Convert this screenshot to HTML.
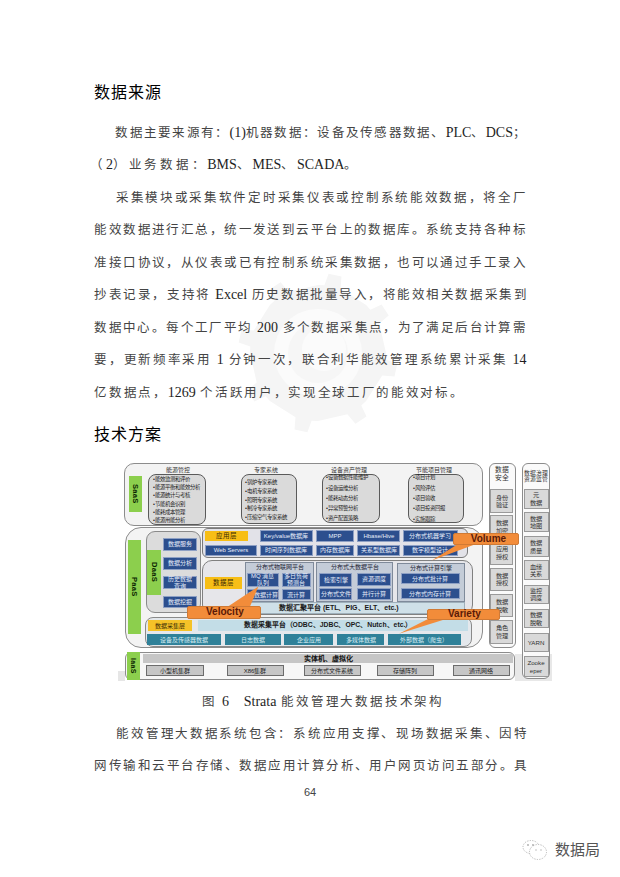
<!DOCTYPE html>
<html lang="zh-CN"><head><meta charset="utf-8"><style>
html,body{margin:0;padding:0;background:#fff;width:620px;height:877px;overflow:hidden;position:relative}
.t{position:absolute;white-space:nowrap;font-family:"Liberation Serif",serif;font-size:12.5px;line-height:16px;color:#444}
.t .e{letter-spacing:0;font-size:14px;color:#1e1e1e}
.h{position:absolute;white-space:nowrap;font-family:"Liberation Sans",sans-serif;font-size:16px;line-height:18px;color:#000;font-weight:400;letter-spacing:1.1px}
#dg{position:absolute;left:0;top:0;width:620px;height:877px}
#dg div{position:absolute;box-sizing:border-box}
</style></head><body>
<svg style="position:absolute;left:0;top:0" width="620" height="877">
<path d="M386.0,353.0 L385.7,359.4 L397.3,363.6 L394.5,376.5 L382.2,375.5 L366.1,401.1 L366.1,401.1 L361.3,405.4 L366.5,416.6 L355.4,423.7 L347.4,414.3 L318.0,421.0 L318.0,421.0 L311.6,420.7 L307.4,432.3 L294.5,429.5 L295.5,417.2 L269.9,401.1 L269.9,401.1 L265.6,396.3 L254.4,401.5 L247.3,390.4 L256.7,382.4 L250.0,353.0 L250.0,353.0 L250.3,346.6 L238.7,342.4 L241.5,329.5 L253.8,330.5 L269.9,304.9 L269.9,304.9 L274.7,300.6 L269.5,289.4 L280.6,282.3 L288.6,291.7 L318.0,285.0 L318.0,285.0 L324.4,285.3 L328.6,273.7 L341.5,276.5 L340.5,288.8 L366.1,304.9 L366.1,304.9 L370.4,309.7 L381.6,304.5 L388.7,315.6 L379.3,323.6 L386.0,353.0Z" fill="#f5f5f5"/>
<circle cx="318" cy="353" r="44" fill="#fbfbfb"/>
<circle cx="318" cy="353" r="30" fill="#f6f6f6"/>
<circle cx="324" cy="349" r="22" fill="#fbfbfb"/>
</svg>
<svg style="position:absolute;left:520px;top:838px" width="32" height="24">
<g fill="#fff" stroke="#b5b5b5" stroke-width="1" stroke-dasharray="1.2 1.3">
<ellipse cx="11" cy="9" rx="8" ry="6.5"/>
<ellipse cx="18" cy="14" rx="8.5" ry="7.5"/>
</g>
<circle cx="8" cy="7" r="0.9" fill="#aaa"/><circle cx="13" cy="7" r="0.9" fill="#aaa"/>
<circle cx="16" cy="12" r="0.8" fill="#bbb"/><circle cx="21" cy="12" r="0.8" fill="#bbb"/>
</svg>
<div style="position:absolute;left:555px;top:841px;font-family:'Liberation Sans',sans-serif;font-size:15px;line-height:17px;color:#555;text-shadow:0 0 2px #fff,1px 1px 0 #fff;white-space:nowrap">数据局</div>
<div class="h" style="left:94px;top:84px">数据来源</div>
<div class="h" style="left:94px;top:426px">技术方案</div>
<div class="t" style="left:115.3px;top:125px;letter-spacing:1.279px">数据主要来源有：<span class="e">(1)</span>机器数据：设备及传感器数据、<span class="e">PLC</span>、<span class="e">DCS</span>；</div>
<div class="t" style="left:90.38px;top:157px;letter-spacing:2.690px">（<span class="e">2</span>）业务数据：<span class="e">BMS</span>、<span class="e">MES</span>、<span class="e">SCADA</span>。</div>
<div class="t" style="left:115.84px;top:190px;letter-spacing:1.704px">采集模块或采集软件定时采集仪表或控制系统能效数据，将全厂</div>
<div class="t" style="left:94.34px;top:222px;letter-spacing:1.423px">能效数据进行汇总，统一发送到云平台上的数据库。系统支持各种标</div>
<div class="t" style="left:94.34px;top:255px;letter-spacing:1.422px">准接口协议，从仪表或已有控制系统采集数据，也可以通过手工录入</div>
<div class="t" style="left:94.34px;top:287px;letter-spacing:1.542px">抄表记录，支持将 <span class="e">Excel</span> 历史数据批量导入，将能效相关数据采集到</div>
<div class="t" style="left:94.34px;top:320px;letter-spacing:1.387px">数据中心。每个工厂平均 <span class="e">200</span> 多个数据采集点，为了满足后台计算需</div>
<div class="t" style="left:94.34px;top:352px;letter-spacing:1.692px">要，更新频率采用 <span class="e">1</span> 分钟一次，联合利华能效管理系统累计采集 <span class="e">14</span></div>
<div class="t" style="left:94.34px;top:385px;letter-spacing:1.661px">亿数据点，<span class="e">1269</span> 个活跃用户，实现全球工厂的能效对标。</div>
<div class="t" style="left:202.34px;top:694px;letter-spacing:1.773px">图 <span class="e">6</span>　<span class="e">Strata</span> 能效管理大数据技术架构</div>
<div class="t" style="left:116.38px;top:726px;letter-spacing:1.727px">能效管理大数据系统包含：系统应用支撑、现场数据采集、因特</div>
<div class="t" style="left:94.3px;top:758px;letter-spacing:1.483px">网传输和云平台存储、数据应用计算分析、用户网页访问五部分。具</div>
<div id="dg">
<style>
#dg .x{display:flex;align-items:center;justify-content:center;text-align:center;white-space:nowrap;font-family:"Liberation Sans",sans-serif;line-height:1}
#dg .ob{border:1.3px solid #8c8c8c;background:#f3f3f3;border-radius:10px}
#dg .ib{border:1px solid #5a5a5a;background:#dadada;border-radius:8px}
#dg .gl{background:#8ccf4d;color:#0a2400;font-size:7.5px;font-weight:bold;writing-mode:vertical-rl;letter-spacing:0.3px}
#dg .bl{background:#2c4f8e;color:#e8eefa;font-size:6px;border:1px solid #8ea0c4}
#dg .or{background:#f7be16;color:#3a2a05;font-size:6.5px}
#dg .tl{background:#2f8199;color:#d8eef5;font-size:6px}
#dg .gb{background:#c6c6c6;border:1px solid #6c6c6c;color:#222;font-size:6px}
#dg .sb{background:#d9d9d9;border:1px solid #9a9a9a;color:#333;font-size:6.2px;line-height:7.5px}
#dg .tt{font-size:6px;color:#333}
#dg .li{font-family:"Liberation Sans",sans-serif;font-size:5.4px;line-height:8.3px;color:#1a1a1a;white-space:nowrap}
#dg .pl{border:1px solid #7f8a9a;background:#c4ccd8}
#dg .co{background:#f28c3a;border:1px solid #d07a35;border-radius:2px;color:#5a1a08;font-size:10px;font-weight:bold}
</style>
<!-- SaaS -->
<div class="ob" style="left:124px;top:463px;width:359px;height:63px"></div>
<div class="x gl" style="left:129px;top:476px;width:13px;height:36px">SaaS</div>
<div class="x tt" style="left:160px;top:465px;width:36px;height:9px">能源管控</div>
<div class="ib" style="left:148px;top:473.5px;width:58px;height:51px"></div>
<div class="li" style="left:153px;top:474.8px;line-height:8.3px">•能效监测和评价<br>•能源平衡和能效分析<br>•能源统计与考核<br>•节能机会识别<br>•能耗成本管理<br>•能源用能分析</div>
<div class="x tt" style="left:248px;top:465px;width:36px;height:9px">专家系统</div>
<div class="ib" style="left:240.5px;top:474px;width:56px;height:50px"></div>
<div class="li" style="left:245px;top:478.1px;line-height:8.7px">•锅炉专家系统<br>•电机专家系统<br>•照明专家系统<br>•制冷专家系统<br>•压缩空气专家系统</div>
<div class="x tt" style="left:326px;top:465px;width:46px;height:9px">设备资产管理</div>
<div class="ib" style="left:321.5px;top:474px;width:58px;height:49px"></div>
<div class="li" style="left:326px;top:472.3px;line-height:10.2px">•设备数据性能维护<br>•设备运维分析<br>•能耗动态分析<br>•异常预警分析<br>•资产配置策略</div>
<div class="x tt" style="left:411px;top:465px;width:46px;height:9px">节能项目管理</div>
<div class="ib" style="left:408.3px;top:473.5px;width:56px;height:49.5px"></div>
<div class="li" style="left:413px;top:472.2px;line-height:10.4px">•项目计划<br>•风险评估<br>•项目验收<br>•项目投资回报<br>•实施跟踪</div>

<!-- PaaS -->
<div class="ob" style="left:124.5px;top:527px;width:358.5px;height:121px;border-radius:16px"></div>
<div class="x gl" style="left:127.5px;top:540px;width:13.5px;height:94px">PaaS</div>
<div class="ob" style="left:146px;top:530.5px;width:54.5px;height:82.5px;background:#dcdcdc;border-color:#8a8a8a;border-radius:9px"></div>
<div class="x gl" style="left:147px;top:550px;width:13.5px;height:44.5px">DaaS</div>
<div class="x bl" style="left:163px;top:537.8px;width:33.5px;height:13px">数据服务</div>
<div class="x bl" style="left:163px;top:557px;width:33.5px;height:12.5px">数据分析</div>
<div class="x bl" style="left:163px;top:576px;width:33.5px;height:13px;line-height:6.5px">历史数据<br>查询</div>
<div class="x bl" style="left:163px;top:595.5px;width:33.5px;height:12.5px">数据挖掘</div>

<!-- app layer -->
<div class="ob" style="left:202px;top:527.5px;width:266px;height:30px;background:#e2e2e8;border-color:#7a7a7a;border-radius:6px"></div>
<div class="x or" style="left:205px;top:530.8px;width:43px;height:10.5px">应用层</div>
<div class="x bl" style="left:205px;top:544.5px;width:52px;height:11px">Web Servers</div>
<div class="x bl" style="left:259.5px;top:529.5px;width:53px;height:12.5px">Key/value数据库</div>
<div class="x bl" style="left:259.5px;top:544.5px;width:53px;height:11px">时间序列数据库</div>
<div class="x bl" style="left:315.8px;top:529.5px;width:38.5px;height:12.5px">MPP</div>
<div class="x bl" style="left:315.8px;top:544.5px;width:38.5px;height:11px">内存数据库</div>
<div class="x bl" style="left:357.4px;top:529.5px;width:43px;height:12.5px">Hbase/Hive</div>
<div class="x bl" style="left:357.4px;top:544.5px;width:43px;height:11px">关系型数据库</div>
<div class="x bl" style="left:403px;top:529.5px;width:54.5px;height:12.5px">分布式机器学习</div>
<div class="x bl" style="left:403px;top:544.5px;width:54.5px;height:11px">数字模型设计</div>

<!-- data layer -->
<div class="ob" style="left:201.5px;top:559.5px;width:271px;height:55px;background:#e6e6ea;border-color:#808080;border-radius:10px"></div>
<div class="x or" style="left:205px;top:577.3px;width:37px;height:12px">数据层</div>
<div class="pl" style="left:245.3px;top:561.8px;width:68.5px;height:40px"></div>
<div class="x tt" style="left:245.3px;top:563px;width:68.5px;height:8px;color:#223">分布式物联网平台</div>
<div class="x bl" style="left:246.6px;top:572.9px;width:32.3px;height:13.7px;line-height:6.5px">MQ 消息<br>队列</div>
<div class="x bl" style="left:281.5px;top:572.9px;width:29.5px;height:13.7px;line-height:6.5px">多日负荷<br>预测台</div>
<div class="x bl" style="left:246.6px;top:589.2px;width:32.3px;height:10.8px">流数据计算</div>
<div class="x bl" style="left:281.5px;top:589.2px;width:29.5px;height:10.8px">流计算</div>
<div class="pl" style="left:316.3px;top:561.8px;width:76.5px;height:40px"></div>
<div class="x tt" style="left:316.3px;top:563px;width:76.5px;height:8px;color:#223">分布式大数据平台</div>
<div class="x bl" style="left:318.9px;top:572.9px;width:33.5px;height:13.7px">检索引擎</div>
<div class="x bl" style="left:357.4px;top:572.9px;width:34px;height:13px">资源调度</div>
<div class="x bl" style="left:318.9px;top:588.4px;width:33.5px;height:11.6px">分布式文件</div>
<div class="x bl" style="left:357.4px;top:588.4px;width:34px;height:11.6px">并行计算</div>
<div class="pl" style="left:396.6px;top:562.6px;width:68.4px;height:39px"></div>
<div class="x tt" style="left:396.6px;top:564px;width:68.4px;height:8px;color:#223">分布式计算引擎</div>
<div class="x bl" style="left:400.5px;top:572.9px;width:59.3px;height:11.6px">分布式批计算</div>
<div class="x bl" style="left:400.5px;top:587.6px;width:59.3px;height:11.9px">分布式内存计算</div>
<div class="x" style="left:244px;top:601.5px;width:221px;height:12.8px;background:#cfe0e8;border:1px solid #9fb0bb;font-size:7px;font-weight:bold;color:#1a1a1a;padding-left:34px;justify-content:flex-start">数据汇聚平台 (ETL、PIG、ELT、etc.)</div>

<!-- collection layer -->
<div class="ob" style="left:144.7px;top:617px;width:327.6px;height:29.6px;background:#e4e8ec;border-color:#8a8a8a;border-radius:8px"></div>
<div class="x or" style="left:148px;top:620px;width:44px;height:11px;font-size:6px;background:#f5c228">数据采集层</div>
<div class="x" style="left:197.6px;top:620.3px;width:270px;height:10.8px;background:#c3dde7;font-size:6.85px;font-weight:bold;color:#1a1a1a;justify-content:flex-start;padding-left:46px">数据采集平台（ODBC、JDBC、OPC、Nutch、etc.）</div>
<div class="x tl" style="left:146.5px;top:634.2px;width:74.3px;height:11px">设备及传感器数据</div>
<div class="x tl" style="left:224.7px;top:634.2px;width:56px;height:11px">日志数据</div>
<div class="x tl" style="left:284.4px;top:634.2px;width:49px;height:11px">企业应用</div>
<div class="x tl" style="left:337.3px;top:634.2px;width:46.9px;height:11px">多媒体数据</div>
<div class="x tl" style="left:388.4px;top:634.2px;width:72.2px;height:11px">外部数据（爬虫）</div>

<!-- IaaS -->
<div style="left:118px;top:670.5px;width:7px;height:10px;background:#e6e6e6"></div>
<div style="left:515px;top:654px;width:37px;height:27px;background:#e8e8e8"></div>
<div class="ob" style="left:124.8px;top:651.8px;width:390px;height:28.4px;border-radius:6px;background:#f7f7f7"></div>
<div class="x gl" style="left:126.6px;top:652px;width:13.9px;height:27.7px;font-size:7px">IaaS</div>
<div class="x" style="left:142.9px;top:653.8px;width:370.6px;height:8.8px;background:#c6c6c6;font-size:7px;font-weight:bold;color:#111">实体机、虚拟化</div>
<div class="x gb" style="left:146px;top:665.2px;width:58px;height:11.1px">小型机集群</div>
<div class="x gb" style="left:226.5px;top:665.2px;width:57px;height:11.1px">X86集群</div>
<div class="x gb" style="left:303.7px;top:665.2px;width:57.3px;height:11.1px">分布式文件系统</div>
<div class="x gb" style="left:376.5px;top:665.2px;width:57px;height:11.1px">存储阵列</div>
<div class="x gb" style="left:452.9px;top:665.2px;width:56.8px;height:11.1px">通讯网络</div>

<!-- data security column -->
<div class="ob" style="left:488.9px;top:462.5px;width:27px;height:185.5px;border-radius:6px;background:#fafafa"></div>
<div class="x" style="left:488.9px;top:466px;width:27px;height:16px;font-size:6.8px;line-height:7.8px;color:#333">数据<br>安全</div>
<div class="x sb" style="left:490.3px;top:489.2px;width:22.5px;height:24px">身份<br>验证</div>
<div class="x sb" style="left:490.3px;top:515.2px;width:22.5px;height:23px">数据<br>加密</div>
<div class="x sb" style="left:490.3px;top:540.5px;width:22.5px;height:24px">应用<br>授权</div>
<div class="x sb" style="left:490.3px;top:567.5px;width:22.5px;height:23.3px">数据<br>授权</div>
<div class="x sb" style="left:490.3px;top:593.7px;width:22.5px;height:23.7px">数据<br>脱敏</div>
<div class="x sb" style="left:490.3px;top:619.8px;width:22.5px;height:24.2px">角色<br>管理</div>

<!-- governance column -->
<div class="ob" style="left:521.7px;top:462.5px;width:28.8px;height:216.5px;border-radius:6px;background:#fafafa"></div>
<div class="x" style="left:521.7px;top:469px;width:28.8px;height:14px;font-size:5.8px;line-height:6.5px;color:#333">数据治理<br>资源监管</div>
<div class="x sb" style="left:523.5px;top:488.5px;width:25px;height:20.5px">元<br>数据</div>
<div class="x sb" style="left:523.5px;top:512.4px;width:25px;height:20px">数据<br>地图</div>
<div class="x sb" style="left:523.5px;top:536.4px;width:25px;height:20.5px">数据<br>质量</div>
<div class="x sb" style="left:523.5px;top:560.4px;width:25px;height:19.8px">血缘<br>关系</div>
<div class="x sb" style="left:523.5px;top:584.8px;width:25px;height:19.2px">监控<br>调度</div>
<div class="x sb" style="left:523.5px;top:609px;width:25px;height:19.3px">数据<br>脱敏</div>
<div class="x sb" style="left:523.5px;top:633.2px;width:25px;height:19px">YARN</div>
<div class="x sb" style="left:523.5px;top:656px;width:25px;height:21px">Zooke<br>eper</div>

<!-- callouts -->
<svg style="position:absolute;left:0;top:0" width="620" height="877">
<polygon points="458,544 476,544 431.8,560.5" fill="#f28c3a"/>
<polygon points="228,606.5 250,606.5 258.4,586.5" fill="#f28c3a"/>
<polygon points="428,619 446,619 398.9,633.8" fill="#f28c3a"/>
</svg>
<div class="x co" style="left:452.7px;top:533px;width:66px;height:11.5px">&nbsp;&nbsp;Volume</div>
<div class="x co" style="left:186.5px;top:606px;width:74px;height:12.5px">&nbsp;Velocity</div>
<div class="x co" style="left:426.5px;top:608.6px;width:73px;height:11.2px">&nbsp;Variety</div>

</div>
<div style="position:absolute;left:304px;top:786px;font-family:'Liberation Sans',sans-serif;font-size:11px;line-height:12px;color:#444">64</div>
</body></html>
